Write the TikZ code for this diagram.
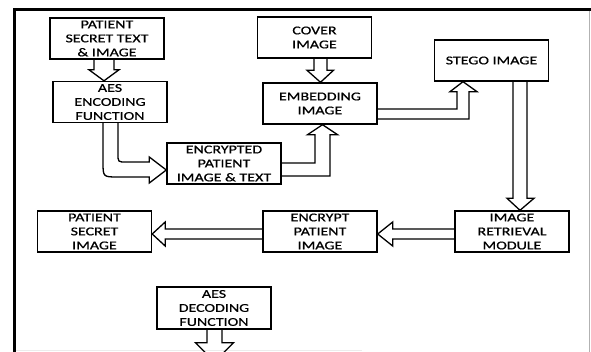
\documentclass[tikz,border=0pt]{standalone}
\usepackage{fontspec}
\setmainfont[FakeStretch=1.33, FakeBold=0.6]{Carlito}
\usetikzlibrary{positioning,calc}
\tikzset{
  procbox/.style={draw, line width=1.4pt, minimum width=114pt, minimum height=41pt, align=center, inner sep=0pt, font=\fontsize{12}{14}\selectfont},
  blockarrow/.style={draw, line width=1.3pt, line join=miter},
  framerule/.style={line width=3pt}
}

\begin{document}
\begin{tikzpicture}[x=1pt, y=-1pt]
  \useasboundingbox (0,0) rectangle (591,352);
  \clip (0,0) rectangle (591,352);

  % frame of the figure
  \draw[framerule] (591,9.5) -- (14.5,9.5) -- (14.5,352);
  \draw[gray!60, line width=1pt] (589,11) -- (589,352);
  \draw[gray!15, line width=1pt] (16,350.5) -- (362,350.5);

  % blocks
  \node[procbox] (pst) at (107,38.5) {PATIENT\\SECRET TEXT\\\& IMAGE};
  \node[procbox] (aesenc) at (110,102) {AES\\ENCODING\\FUNCTION};
  \node[procbox] (encr) at (224,163.5) {ENCRYPTED\\PATIENT\\IMAGE \& TEXT};
  \node[procbox] (cover) at (314.5,37.5) {COVER\\IMAGE};
  \node[procbox] (embed) at (320,103.5) {EMBEDDING\\IMAGE};
  \node[procbox] (stego) at (491.5,60.5) {STEGO IMAGE};
  \node[procbox] (retr) at (512,231.5) {IMAGE\\RETRIEVAL\\MODULE};
  \node[procbox] (encpat) at (320,231.5) {ENCRYPT\\PATIENT\\IMAGE};
  \node[procbox] (psi) at (94.5,231.5) {PATIENT\\SECRET\\IMAGE};
  \node[procbox, minimum height=42pt] (aesdec) at (214,308) {AES\\DECODING\\FUNCTION};

  \coordinate (bend) at (aesenc.south |- encr.west);
  \coordinate (decout) at ($(aesdec.south)+(0.5,32)$);

  % hollow block arrows
  \draw[blockarrow] ($(pst.south)+(-13,0)$) -- ($(aesenc.north)+(-16,-11)$) -- ++(-5,0)
    -- ($(aesenc.north)+(-6,0)$) -- ($(aesenc.north)+(9,-11)$) -- ++(-5,0) -- ($(pst.south)+(7,0)$);
  \draw[blockarrow] ($(aesenc.south)+(8,0)$) -- ($(bend)+(8,-9.5)$)
    .. controls ($(bend)+(8,-1.5)$) .. ($(bend)+(16,-1.5)$)
    -- ($(encr.west)+(-17,-1.5)$) -- ++(0,-5) -- ($(encr.west)+(0,6.5)$)
    -- ($(encr.west)+(-17,19.5)$) -- ++(0,-6) -- ($(bend)+(8,13.5)$)
    .. controls ($(bend)+(-7,13.5)$) .. ($(bend)+(-7,-1.5)$) -- ($(aesenc.south)+(-7,0)$);
  \draw[blockarrow] ($(cover.south)+(-0.5,0)$) -- ($(embed.north)+(-6,-12)$) -- ++(-7,0)
    -- ($(embed.north)+(0.5,0)$) -- ($(embed.north)+(13.5,-12)$) -- ++(-6.5,0) -- ($(cover.south)+(12.5,0)$);
  \draw[blockarrow] ($(encr.east)+(0,-0.5)$) -- ($(embed.south |- encr.east)+(-5,-0.5)$)
    -- ($(embed.south)+(-5,10)$) -- ++(-7.5,0) -- ($(embed.south)+(2.5,0)$)
    -- ($(embed.south)+(17.5,10)$) -- ++(-7.5,0) -- ($(embed.south |- encr.east)+(10,12.5)$)
    -- ($(encr.east)+(0,12.5)$);
  \draw[blockarrow] ($(embed.east)+(0,5.5)$) -- ($(stego.south |- embed.east)+(-34.5,5.5)$)
    -- ($(stego.south)+(-34.5,10)$) -- ++(-7,0) -- ($(stego.south)+(-28.5,0)$)
    -- ($(stego.south)+(-14.5,10)$) -- ++(-8,0) -- ($(stego.south |- embed.east)+(-22.5,15.5)$)
    -- ($(embed.east)+(0,15.5)$);
  \draw[blockarrow] ($(stego.south)+(21.5,0)$) -- ($(retr.north)+(1,-12)$) -- ++(-6,0)
    -- ($(retr.north)+(8,0)$) -- ($(retr.north)+(22,-12)$) -- ++(-7,0) -- ($(stego.south)+(35.5,0)$);
  \draw[blockarrow] ($(retr.west)+(0,-2.5)$) -- ($(encpat.east)+(15,-2.5)$) -- ++(0,-7)
    -- ($(encpat.east)+(0,2.5)$) -- ($(encpat.east)+(15,14.5)$) -- ++(0,-7) -- ($(retr.west)+(0,7.5)$);
  \draw[blockarrow] ($(encpat.west)+(0,-2.5)$) -- ($(psi.east)+(13,-2.5)$) -- ++(0,-7)
    -- ($(psi.east)+(0,2.5)$) -- ($(psi.east)+(13,14.5)$) -- ++(0,-7) -- ($(encpat.west)+(0,7.5)$);
  \draw[blockarrow] ($(aesdec.south)+(-7,0)$) -- ++(0,13) -- ++(-11.5,0) -- (decout)
    -- ($(aesdec.south)+(19.5,13)$) -- ++(-11.5,0) -- ($(aesdec.south)+(8,0)$);
\end{tikzpicture}
\end{document}
